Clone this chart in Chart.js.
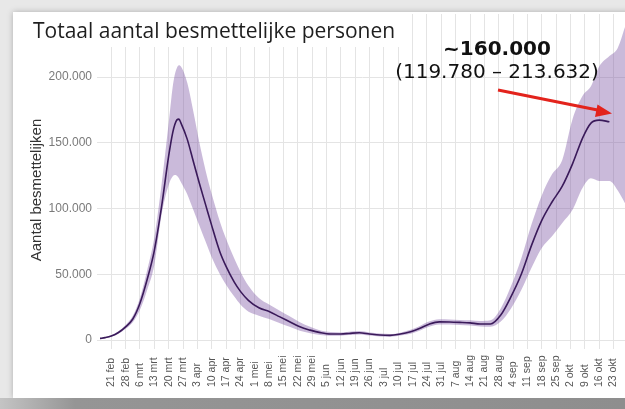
<!DOCTYPE html>
<html>
<head>
<meta charset="utf-8">
<script src="https://cdn.jsdelivr.net/npm/chart.js@4"></script>
<style>
    body { margin: 0; width: 625px; height: 409px; overflow: hidden; background: #e8e8e8; position: relative; }
    .card { position: absolute; left: 13px; top: 12px; width: 700px; height: 386px; background: #fff; box-shadow: 0 0 6px rgba(0,0,0,0.25); }
    .bottom { position: absolute; left: 0; top: 398px; width: 625px; height: 11px; background: linear-gradient(90deg, #c4c4c4 0%, #959595 12%, #8e8e8e 100%); }
    #chart { position: absolute; left: 0; top: 0; }
</style>
</head>
<body>
<div class="card"></div>
<div class="bottom"></div>
<canvas id="chart" width="625" height="409"></canvas>
<script>
// ==========================================================================
// Data (days counted from 21 feb, values in thousands)
// ==========================================================================

const days = [-5.5, -3, 0, 3.5, 7, 10.5, 14, 17.5, 21, 24.5, 28, 30, 31, 32, 33, 34, 37, 40, 43, 46,
    49, 53, 56, 60, 63, 67, 72, 77, 82, 87, 92, 97, 102, 107, 112, 116, 121, 126, 131, 136,
    141, 146, 150, 155, 160, 165, 170, 175, 180, 185, 190, 195, 200, 205, 210, 215, 220, 225, 230, 234,
    238, 243, 247, 251];

const meanValues = [1.2, 1.8, 3, 5.7, 10, 16, 28, 46, 68, 101, 140, 158, 164, 167.5, 168, 165, 153, 136, 119, 103,
    87, 67, 56, 44, 37, 30, 24.5, 21.6, 17.8, 13.9, 10, 7.5, 5.6, 4.6, 4.6, 5, 5.5, 4.6, 3.8, 3.5,
    4.5, 6.3, 8.5, 12, 13.8, 13.7, 13.4, 13, 12.2, 12.2, 19, 33, 50, 72, 91, 105, 117, 134, 154, 165,
    167.3, 166, null, null];

const upperValues = [1.5, 2.2, 3.6, 6.6, 11.5, 18.5, 32, 53, 78, 118, 165, 193, 202, 207, 209, 208, 196, 174, 150, 129,
    111, 90, 77, 62, 52, 41, 32, 27, 22.5, 18, 13.5, 10, 7.2, 6, 5.8, 6.3, 6.8, 5.8, 5, 4.6,
    5.6, 7.8, 10.3, 14, 15.8, 15.6, 15.3, 15, 14.5, 15, 24, 41, 62, 88, 110, 126, 137, 168, 186, 193,
    208, 216, 222, 240];

const lowerValues = [0.9, 1.4, 2.5, 4.8, 8.5, 13.5, 23, 38, 57, 95, 118, 124.5, 125.5, 125, 123, 120, 111, 99, 87, 75,
    63, 50, 42, 33, 27, 21.5, 18.5, 16, 13, 10, 7, 5.2, 3.8, 3.2, 3.3, 3.8, 4.2, 3.4, 2.7, 2.5,
    3.4, 4.8, 6.8, 10, 11.8, 11.8, 11.5, 11, 10.3, 10, 14, 24, 38, 55, 70, 79, 89, 99, 116, 123,
    121, 121, 114, 103];

const tickLabels = ["21 feb", "28 feb", "6 mrt", "13 mrt", "20 mrt", "27 mrt", "3 apr", "10 apr", "17 apr", "24 apr",
    "1 mei", "8 mei", "15 mei", "22 mei", "29 mei", "5 jun", "12 jun", "19 jun", "26 jun", "3 jul",
    "10 jul", "17 jul", "24 jul", "31 jul", "7 aug", "14 aug", "21 aug", "28 aug", "4 sep", "11 sep",
    "18 sep", "25 sep", "2 okt", "9 okt", "16 okt", "23 okt"];
const tickDays = tickLabels.map((_, i) => i * 7);

const yTicks = [0, 50000, 100000, 150000, 200000];

const toPoints = values => days.map((d, i) => ({ x: d, y: values[i] === null ? null : values[i] * 1000 }));
const formatNl = v => String(v).replace(/\B(?=(\d{3})+(?!\d))/g, '.');

// ==========================================================================
// Overlay: title, axis title, rotated date labels, annotation and arrow
// ==========================================================================

const overlayPlugin = {
    id: 'overlay',
    afterDraw(chart) {
        const ctx = chart.ctx;
        const xScale = chart.scales.x;

        // title box
        ctx.save();
        ctx.fillStyle = '#ffffff';
        ctx.fillRect(14, 14, 398, 33);
        ctx.fillStyle = '#1e1e1e';
        ctx.font = '21px "Open Sans", sans-serif';
        ctx.textBaseline = 'alphabetic';
        ctx.fillText('Totaal aantal besmettelijke personen', 33, 38);
        ctx.restore();

        // y axis title
        ctx.save();
        ctx.fillStyle = '#333333';
        ctx.font = '15px "Liberation Sans", Arial, sans-serif';
        ctx.textAlign = 'center';
        ctx.textBaseline = 'middle';
        ctx.translate(37, 190);
        ctx.rotate(-Math.PI / 2);
        ctx.fillText('Aantal besmettelijken', 0, 0);
        ctx.restore();

        // date labels, bottom aligned
        ctx.save();
        ctx.fillStyle = '#555555';
        ctx.font = '10.5px "Liberation Sans", Arial, sans-serif';
        ctx.textAlign = 'left';
        ctx.textBaseline = 'middle';
        tickDays.forEach((d, i) => {
            const px = xScale.getPixelForValue(d);
            ctx.save();
            ctx.translate(px, 387);
            ctx.rotate(-Math.PI / 2);
            ctx.fillText(tickLabels[i], 0, 0);
            ctx.restore();
        });
        ctx.restore();

        // annotation text
        ctx.save();
        ctx.fillStyle = '#111111';
        ctx.textAlign = 'center';
        ctx.font = 'bold 20px "DejaVu Sans", Verdana, sans-serif';
        ctx.fillText('~160.000', 497, 55);
        ctx.font = '20px "DejaVu Sans", Verdana, sans-serif';
        ctx.fillText('(119.780 \u2013 213.632)', 497, 78);
        ctx.restore();

        // red arrow
        ctx.save();
        ctx.strokeStyle = '#e3231c';
        ctx.fillStyle = '#e3231c';
        ctx.lineWidth = 3;
        ctx.beginPath();
        ctx.moveTo(498, 90);
        ctx.lineTo(600, 110.5);
        ctx.stroke();
        ctx.beginPath();
        ctx.moveTo(612, 113.5);
        ctx.lineTo(597.5, 104.5);
        ctx.lineTo(595, 117);
        ctx.closePath();
        ctx.fill();
        ctx.restore();
    }
};

const bandColor = 'rgba(122, 82, 162, 0.4)';

new Chart(document.getElementById('chart'), {
    type: 'line',
    data: {
        datasets: [
            {
                label: 'Gemiddelde',
                data: toPoints(meanValues),
                borderColor: '#3a1a5a',
                borderWidth: 1.6,
                pointRadius: 0,
                fill: false,
                cubicInterpolationMode: 'monotone'
            },
            {
                label: 'Bovengrens',
                data: toPoints(upperValues),
                borderWidth: 0,
                pointRadius: 0,
                backgroundColor: bandColor,
                fill: '+1',
                cubicInterpolationMode: 'monotone'
            },
            {
                label: 'Ondergrens',
                data: toPoints(lowerValues),
                borderWidth: 0,
                pointRadius: 0,
                fill: false,
                cubicInterpolationMode: 'monotone'
            }
        ]
    },
    options: {
        responsive: false,
        animation: false,
        devicePixelRatio: 1,
        layout: { padding: { top: 14, right: 0, bottom: 0, left: 0 } },
        plugins: {
            legend: { display: false },
            tooltip: { enabled: false }
        },
        scales: {
            x: {
                type: 'linear',
                min: -5.5,
                max: 250.6,
                afterBuildTicks: scale => { scale.ticks = tickDays.map(v => ({ value: v })); },
                afterFit: scale => { scale.height = 69; },
                ticks: { display: false },
                grid: { color: '#e4e4e4', lineWidth: 1, tickLength: 9 },
                border: { display: false }
            },
            y: {
                min: 0,
                max: 248000,
                afterBuildTicks: scale => { scale.ticks = yTicks.map(v => ({ value: v })); },
                afterFit: scale => { scale.width = 100; },
                ticks: {
                    padding: 5,
                    color: '#7a7a7a',
                    font: { family: '"Liberation Sans", Arial, sans-serif', size: 12 },
                    callback: v => formatNl(v)
                },
                grid: { color: '#e4e4e4', lineWidth: 1, tickLength: 3 },
                border: { display: false }
            }
        }
    },
    plugins: [overlayPlugin]
});
</script>
</body>
</html>
